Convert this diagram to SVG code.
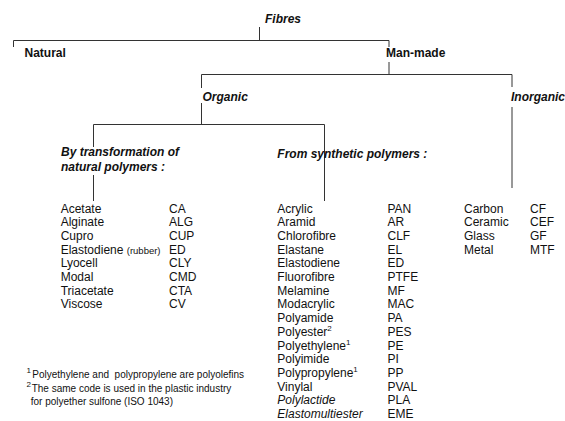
<svg xmlns="http://www.w3.org/2000/svg" width="565" height="421" viewBox="0 0 565 421">
<style>
text{font-family:"Liberation Sans",Arial,sans-serif;fill:#111;}
.h{font-size:12px;font-weight:bold;}
.hi{font-size:12px;font-weight:bold;font-style:italic;}
.l{font-size:12px;}
.it{font-style:italic;}
.fn{font-size:10px;}
.sup{font-size:8px;}
.c path{stroke:#333;stroke-width:1;fill:none;}
</style>
<rect width="565" height="421" fill="#fff"/>
<g id="connectors" class="c">
<path d="M259.5 27V40.5M13.5 40.5H389M13.5 40.5V47M389 40.5V47"/>
<path d="M389 62V74.5M201.5 74.5H512"/>
<path d="M201.5 74.5V88M201.5 103V124.5"/>
<path d="M512 74.5V87M512 107V188"/>
<path d="M93.5 124.5H324.5M93.5 124.5V147M93.5 175V201"/>
<path d="M324.5 124.5V201"/>
</g>
<g id="fibres"><text class="hi" x="265" y="23">Fibres</text></g>
<g id="natural"><text class="h" x="24.5" y="57">Natural</text></g>
<g id="manmade"><text class="h" x="386" y="57">Man-made</text></g>
<g id="organic"><text class="hi" x="202.5" y="101">Organic</text></g>
<g id="inorganic"><text class="hi" x="511" y="101">Inorganic</text></g>
<g id="transformation">
<text class="hi" x="61" y="156">By transformation of</text>
<text class="hi" x="61" y="170.5">natural polymers :</text>
<text class="l" x="60.7" y="212.5">Acetate</text><text class="l" x="169" y="212.5">CA</text>
<text class="l" x="60.7" y="226.2">Alginate</text><text class="l" x="169" y="226.2">ALG</text>
<text class="l" x="60.7" y="239.9">Cupro</text><text class="l" x="169" y="239.9">CUP</text>
<text class="l" x="60.7" y="253.6">Elastodiene <tspan font-size="9.5">(rubber)</tspan></text><text class="l" x="169" y="253.6">ED</text>
<text class="l" x="60.7" y="267.3">Lyocell</text><text class="l" x="169" y="267.3">CLY</text>
<text class="l" x="60.7" y="281">Modal</text><text class="l" x="169" y="281">CMD</text>
<text class="l" x="60.7" y="294.7">Triacetate</text><text class="l" x="169" y="294.7">CTA</text>
<text class="l" x="60.7" y="308.4">Viscose</text><text class="l" x="169" y="308.4">CV</text>
</g>
<g id="synthetic">
<text class="hi" x="277.3" y="158">From synthetic polymers :</text>
<text class="l" x="277.3" y="212.5">Acrylic</text><text class="l" x="387.5" y="212.5">PAN</text>
<text class="l" x="277.3" y="226.2">Aramid</text><text class="l" x="387.5" y="226.2">AR</text>
<text class="l" x="277.3" y="239.9">Chlorofibre</text><text class="l" x="387.5" y="239.9">CLF</text>
<text class="l" x="277.3" y="253.6">Elastane</text><text class="l" x="387.5" y="253.6">EL</text>
<text class="l" x="277.3" y="267.3">Elastodiene</text><text class="l" x="387.5" y="267.3">ED</text>
<text class="l" x="277.3" y="281">Fluorofibre</text><text class="l" x="387.5" y="281">PTFE</text>
<text class="l" x="277.3" y="294.7">Melamine</text><text class="l" x="387.5" y="294.7">MF</text>
<text class="l" x="277.3" y="308.4">Modacrylic</text><text class="l" x="387.5" y="308.4">MAC</text>
<text class="l" x="277.3" y="322.1">Polyamide</text><text class="l" x="387.5" y="322.1">PA</text>
<text class="l" x="277.3" y="335.8">Polyester<tspan class="sup" dy="-5">2</tspan></text><text class="l" x="387.5" y="335.8">PES</text>
<text class="l" x="277.3" y="349.5">Polyethylene<tspan class="sup" dy="-5">1</tspan></text><text class="l" x="387.5" y="349.5">PE</text>
<text class="l" x="277.3" y="363.2">Polyimide</text><text class="l" x="387.5" y="363.2">PI</text>
<text class="l" x="277.3" y="376.9">Polypropylene<tspan class="sup" dy="-5">1</tspan></text><text class="l" x="387.5" y="376.9">PP</text>
<text class="l" x="277.3" y="390.6">Vinylal</text><text class="l" x="387.5" y="390.6">PVAL</text>
<text class="l it" x="277.3" y="404.3">Polylactide</text><text class="l" x="387.5" y="404.3">PLA</text>
<text class="l it" x="277.3" y="418">Elastomultiester</text><text class="l" x="387.5" y="418">EME</text>
</g>
<g id="inorganic-list">
<text class="l" x="464" y="212.5">Carbon</text><text class="l" x="530" y="212.5">CF</text>
<text class="l" x="464" y="226.2">Ceramic</text><text class="l" x="530" y="226.2">CEF</text>
<text class="l" x="464" y="239.9">Glass</text><text class="l" x="530" y="239.9">GF</text>
<text class="l" x="464" y="253.6">Metal</text><text class="l" x="530" y="253.6">MTF</text>
</g>
<g id="footnotes">
<text class="sup" x="26.5" y="373" font-size="7">1</text>
<text class="fn" x="32.3" y="378">Polyethylene and&#160; polypropylene are polyolefins</text>
<text class="sup" x="26.5" y="386.5" font-size="7">2</text>
<text class="fn" x="31.7" y="391.5">The same code is used in the plastic industry</text>
<text class="fn" x="30.7" y="405">for polyether sulfone (ISO 1043)</text>
</g>
</svg>
